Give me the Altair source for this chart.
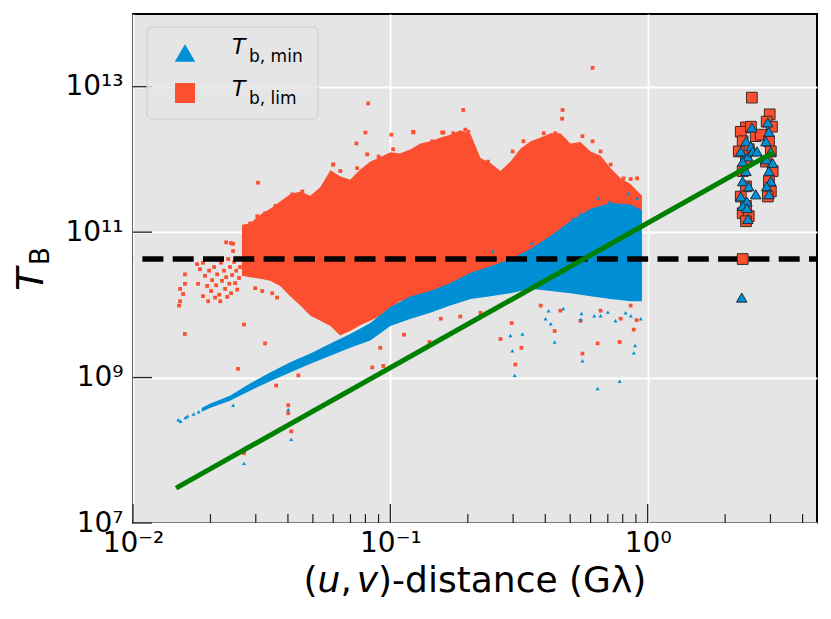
import altair as alt
import pandas as pd

W, H = 684, 509

# ---------------- axes ----------------
x_domain = [0.01, 4.55]
y_domain = [1e7, 1e14]
x_major = [0.01, 0.1, 1.0]
x_major_labels = ["10⁻²", "10⁻¹", "10⁰"]
x_minor = [0.02, 0.03, 0.04, 0.05, 0.06, 0.07, 0.08, 0.09,
           0.2, 0.3, 0.4, 0.5, 0.6, 0.7, 0.8, 0.9, 2, 3, 4]
y_major = [1e7, 1e9, 1e11, 1e13]
y_major_labels = ["10⁷", "10⁹", "10¹¹", "10¹³"]

# ---------------- data (log10 T_B) ----------------
# dense T_b,lim cloud: lower / upper envelope
lim_env_x = [0.0265, 0.0285, 0.0312, 0.0341, 0.0373, 0.0408, 0.0447, 0.0489, 0.0535, 0.0585,
             0.0638, 0.0698, 0.0764, 0.0836, 0.0914, 0.100, 0.109, 0.120, 0.131, 0.143,
             0.157, 0.171, 0.187, 0.205, 0.224, 0.245, 0.268, 0.293, 0.321, 0.351,
             0.384, 0.420, 0.458, 0.501, 0.548, 0.600, 0.656, 0.718, 0.785, 0.859, 0.950]
lim_env_lo = [10.40, 10.38, 10.36, 10.33, 10.26, 10.12, 9.99, 9.85, 9.78, 9.71,
              9.58, 9.64, 9.72, 9.78, 9.85, 9.95, 10.05, 10.08, 10.12, 10.16,
              10.19, 10.26, 10.30, 10.33, 10.40, 10.45, 10.49, 10.53, 10.58, 10.63,
              10.67, 10.74, 10.81, 10.88, 10.95, 11.01, 11.08, 11.12, 11.15, 11.18, 11.22]
lim_env_hi = [11.10, 11.12, 11.24, 11.32, 11.42, 11.52, 11.56, 11.50, 11.62, 11.85,
              11.77, 11.72, 11.86, 11.97, 12.03, 12.10, 12.08, 12.14, 12.22, 12.25,
              12.30, 12.34, 12.40, 12.35, 12.02, 11.95, 11.84, 11.97, 12.15, 12.25,
              12.30, 12.36, 12.36, 12.22, 12.24, 12.11, 12.05, 11.88, 11.74, 11.66, 11.50]

# dense T_b,min band
min_env_x = [0.0185, 0.0199, 0.0238, 0.0285, 0.0341, 0.0408, 0.0489, 0.0585, 0.0698, 0.0836,
             0.100, 0.120, 0.143, 0.171, 0.205, 0.245, 0.293, 0.351, 0.420, 0.501,
             0.600, 0.718, 0.859, 0.950]
min_env_lo = [8.53, 8.58, 8.68, 8.82, 8.95, 9.07, 9.19, 9.30, 9.41, 9.51,
              9.71, 9.81, 9.89, 9.99, 10.08, 10.12, 10.16, 10.22, 10.19, 10.16,
              10.12, 10.08, 10.05, 10.05]
min_env_hi = [8.58, 8.64, 8.75, 8.92, 9.07, 9.21, 9.33, 9.47, 9.60, 9.75,
              9.97, 10.12, 10.19, 10.30, 10.44, 10.53, 10.63, 10.77, 10.95, 11.15,
              11.32, 11.40, 11.38, 11.30]

# individual T_b,lim points (sparse part, ragged edges and outliers)
lim_pts_x = [0.01510, 0.01524, 0.01566, 0.01592, 0.01592, 0.01524,
             0.01774, 0.01822, 0.01871, 0.01790, 0.01871, 0.01905, 0.01941, 0.01976, 0.02012,
             0.02030, 0.02067, 0.02104, 0.02123, 0.02163, 0.02183, 0.02198, 0.02218, 0.02259,
             0.02280, 0.02301, 0.02344, 0.02366, 0.02382, 0.02404, 0.02427, 0.02449, 0.02472,
             0.02495, 0.02518, 0.02541, 0.02564, 0.02582, 0.02606, 0.02301, 0.02404, 0.02449,
             0.02084, 0.01959, 0.02323, 0.03475, 0.03631, 0.03177, 0.02985,
             0.0273, 0.0285, 0.0304, 0.0326, 0.0358, 0.0416, 0.0455, 0.0520, 0.0569, 0.0600,
             0.0639, 0.0680, 0.0743, 0.0813, 0.0912, 0.1025, 0.1227, 0.1455, 0.1610, 0.1756,
             0.1955, 0.2010, 0.2178, 0.2395, 0.2665, 0.2988, 0.3291, 0.3945, 0.4375, 0.5136,
             0.5579, 0.6110, 0.6560, 0.7180, 0.8050, 0.8590, 0.9100,
             0.0159, 0.0306, 0.0820, 0.0800, 0.0738, 0.1009, 0.611, 0.192, 0.467, 0.123,
             0.159, 0.465, 0.0270, 0.0256, 0.0326, 0.0360, 0.0401, 0.0401, 0.0412, 0.0270,
             0.0439, 0.0851, 0.0939, 0.0914, 0.113, 0.142, 0.268, 0.296, 0.306, 0.323,
             0.435, 0.558, 0.639, 0.778, 0.883, 0.906, 0.157, 0.187, 0.224, 0.384,
             0.458, 0.548, 0.656, 0.785, 0.859, 0.060, 0.090]
lim_pts_e = [9.99, 10.05, 10.15, 10.42, 10.29, 10.22,
             10.56, 10.49, 10.58, 10.29, 10.12, 10.40, 10.26, 10.47, 10.19,
             10.34, 10.52, 10.27, 10.42, 10.14, 10.05, 10.58, 10.33, 10.47,
             10.22, 10.38, 10.63, 10.29, 10.52, 10.16, 10.41, 10.74, 10.59,
             10.30, 10.47, 10.21, 10.63, 10.37, 10.52, 10.86, 10.85, 10.84,
             10.10, 10.05, 10.11, 10.16, 10.10, 10.19, 10.23,
             11.05, 11.12, 11.22, 11.26, 11.36, 11.52, 11.56, 11.45, 11.60, 11.93,
             11.84, 11.70, 11.88, 12.07, 12.01, 12.14, 12.38, 12.25, 12.37, 12.36,
             12.41, 12.38, 12.01, 11.97, 11.79, 12.11, 12.25, 12.36, 12.36, 12.14,
             12.32, 12.25, 12.11, 11.93, 11.74, 11.73, 11.74,
             9.60, 11.68, 12.77, 12.37, 12.22, 12.34, 13.26, 12.68, 12.68, 12.37,
             12.37, 12.56, 9.73, 9.12, 9.47, 8.89, 8.62, 8.51, 8.26, 7.96,
             9.03, 9.14, 9.16, 9.41, 9.59, 9.49, 9.53, 9.75, 9.18, 9.41,
             9.64, 9.33, 9.47, 9.49, 9.66, 9.79, 9.81, 9.84, 9.89, 9.99,
             9.92, 9.78, 9.92, 9.81, 9.99, 11.93, 12.04]

# individual T_b,min points
min_pts_x = [0.0150, 0.0153, 0.0160, 0.0163, 0.0172, 0.0180,
             0.0270, 0.0412, 0.0401, 0.0245, 0.304, 0.639, 0.778, 0.883, 0.893, 0.558,
             0.435, 0.298, 0.326, 0.420, 0.293, 0.401, 0.412, 0.656, 0.750, 0.940,
             0.821, 0.642, 0.710, 0.840, 0.910, 0.514, 0.548, 0.445, 0.426, 0.354, 0.250,
             0.550, 0.553, 0.620, 0.700, 0.860, 0.470]
min_pts_e = [8.42, 8.40, 8.45, 8.47, 8.50, 8.53,
             7.82, 8.15, 8.56, 8.62, 9.03, 8.85, 8.95, 9.34, 9.44, 9.23,
             9.49, 9.37, 9.60, 9.74, 9.58, 9.81, 9.92, 9.85, 9.78, 9.81,
             9.89, 11.47, 11.42, 11.53, 11.47, 11.19, 11.25, 10.90, 10.90, 10.85, 10.74,
             9.80, 9.88, 9.85, 9.90, 9.85, 9.95]

# long-baseline cluster
clu_lim_x = [2.41, 2.30, 2.52, 2.63, 2.34, 2.47, 2.26, 2.41, 2.34, 2.41, 2.30, 2.41, 2.34, 2.47,
             2.41, 2.75, 2.98, 2.90, 3.04, 2.96, 3.01, 2.88, 3.06, 2.96, 3.01, 2.93, 2.54, 2.34]
clu_lim_e = [12.44, 12.38, 12.45, 12.32, 12.25, 12.14, 12.11, 11.97, 11.84, 11.63, 11.49, 11.36,
             11.26, 11.22, 11.15, 12.34, 12.62, 12.52, 12.45, 12.25, 12.11, 11.97, 11.84, 11.70,
             11.56, 11.49, 12.85, 10.63]
clu_min_x = [2.54, 2.41, 2.52, 2.30, 2.45, 2.56, 2.66, 2.34, 2.41, 2.34, 2.47, 2.30, 2.43, 2.63,
             2.34, 2.43, 2.45, 2.93, 2.96, 2.88, 3.01, 2.90, 3.06, 2.96, 3.01, 2.90, 2.96, 2.32]
clu_min_e = [12.44, 12.25, 12.18, 12.11, 12.04, 12.11, 12.11, 11.97, 11.84, 11.70, 11.63, 11.49,
             11.42, 11.52, 11.36, 11.33, 11.18, 12.51, 12.38, 12.25, 12.11, 12.00, 11.95, 11.84,
             11.70, 11.63, 11.52, 10.10]

# green x^2 line and threshold
fit_x = [0.0147, 3.09]
fit_e = [7.48, 12.10]
thresh_e = [10.63]

legend_T = ["T", "T"]
legend_sub = ["b, min", "b, lim"]

# ---------------- styles ----------------
BLUE = "#008FD5"
RED = "#FC4F30"
FONT = "DejaVu Sans"


def lab_expr(vals, labels):
    expr = f"'{labels[-1]}'"
    for v, lab in reversed(list(zip(vals[:-1], labels[:-1]))):
        expr = f"datum.value < {v * 3.0} ? '{lab}' : " + expr
    return expr


xs = alt.Scale(type="log", domain=x_domain, nice=False, zero=False)
ys = alt.Scale(type="log", domain=y_domain, nice=False, zero=False)
x_axis = alt.Axis(values=x_major, labelExpr=lab_expr(x_major, x_major_labels), ticks=False,
                  domain=False, grid=True, gridColor="white", gridWidth=1.8, labelFont=FONT,
                  labelFontSize=28, labelColor="black", labelPadding=6, title=None,
                  labelFlush=False, labelOverlap=False, labelBound=False)
y_axis = alt.Axis(values=y_major, labelExpr=lab_expr(y_major, y_major_labels), ticks=False,
                  domain=False, grid=True, gridColor="white", gridWidth=1.8, labelFont=FONT,
                  labelFontSize=28, labelColor="black", labelPadding=10, title=None,
                  labelFlush=False, labelOverlap=False, labelBound=False)


def X(f):
    return alt.X(f, type="quantitative", scale=xs, axis=x_axis)


def Y(f):
    return alt.Y(f, type="quantitative", scale=ys, axis=y_axis)


def pow10(lst):
    return [10 ** v for v in lst]


lim_env = pd.DataFrame({"x": lim_env_x, "lo": pow10(lim_env_lo), "hi": pow10(lim_env_hi)})
min_env = pd.DataFrame({"x": min_env_x, "lo": pow10(min_env_lo), "hi": pow10(min_env_hi)})
lim_pts = pd.DataFrame({"x": lim_pts_x, "y": pow10(lim_pts_e)})
min_pts = pd.DataFrame({"x": min_pts_x, "y": pow10(min_pts_e)})
clu_lim = pd.DataFrame({"x": clu_lim_x, "y": pow10(clu_lim_e)})
clu_min = pd.DataFrame({"x": clu_min_x, "y": pow10(clu_min_e)})
fit = pd.DataFrame({"x": fit_x, "y": pow10(fit_e)})
thresh = pd.DataFrame({"y": pow10(thresh_e)})

layers = []
layers.append(alt.Chart(lim_env).mark_area(color=RED, opacity=1).encode(x=X("x"), y=Y("lo"), y2="hi"))
layers.append(alt.Chart(lim_pts).mark_point(shape="square", filled=True, size=14, color=RED, opacity=1)
              .encode(x=X("x"), y=Y("y")))
layers.append(alt.Chart(min_env).mark_area(color=BLUE, opacity=1).encode(x=X("x"), y=Y("lo"), y2="hi"))
layers.append(alt.Chart(min_pts).mark_point(shape="triangle-up", filled=True, size=16, color=BLUE, opacity=1)
              .encode(x=X("x"), y=Y("y")))
layers.append(alt.Chart(thresh).mark_rule(color="black", strokeWidth=5.5, strokeDash=[21, 9.3],
                                          strokeDashOffset=13).encode(y=Y("y")))
layers.append(alt.Chart(clu_lim).mark_point(shape="square", filled=True, size=115, fill=RED,
                                            stroke="#3a2a26", strokeWidth=1, opacity=1)
              .encode(x=X("x"), y=Y("y")))
layers.append(alt.Chart(clu_min).mark_point(shape="triangle-up", filled=True, size=110, fill=BLUE,
                                            stroke="#1f2d38", strokeWidth=1, opacity=1)
              .encode(x=X("x"), y=Y("y")))
layers.append(alt.Chart(fit).mark_line(color="#008000", strokeWidth=5).encode(x=X("x"), y=Y("y")))

# inward ticks
layers.append(alt.Chart(pd.DataFrame({"x": x_major})).mark_rule(color="#222", strokeWidth=1.3)
              .encode(x=X("x"), y=alt.value(H), y2=alt.value(H - 19)))
layers.append(alt.Chart(pd.DataFrame({"x": x_minor})).mark_rule(color="#222", strokeWidth=1.2)
              .encode(x=X("x"), y=alt.value(H), y2=alt.value(H - 9)))
layers.append(alt.Chart(pd.DataFrame({"y": y_major})).mark_rule(color="#222", strokeWidth=1.3)
              .encode(y=Y("y"), x=alt.value(0), x2=alt.value(19)))

# legend
one = pd.DataFrame({"a": [0]})
layers.append(alt.Chart(one).mark_rect(fill="#E5E5E5", fillOpacity=0.85, stroke="#CCCCCC",
                                       strokeWidth=1, cornerRadius=5)
              .encode(x=alt.value(14), x2=alt.value(185), y=alt.value(13), y2=alt.value(105)))
layers.append(alt.Chart(one).mark_point(shape="triangle-up", filled=True, size=420, color=BLUE, opacity=1)
              .encode(x=alt.value(52), y=alt.value(39)))
layers.append(alt.Chart(one).mark_point(shape="square", filled=True, size=400, color=RED, opacity=1)
              .encode(x=alt.value(52), y=alt.value(79)))
for i, yb in enumerate([40, 82]):
    layers.append(alt.Chart(pd.DataFrame({"t": [legend_T[i]]}))
                  .mark_text(font=FONT, fontSize=22, fontStyle="italic", align="left",
                             baseline="alphabetic", color="black")
                  .encode(text="t:N", x=alt.value(99), y=alt.value(yb)))
    layers.append(alt.Chart(pd.DataFrame({"t": [legend_sub[i]]}))
                  .mark_text(font=FONT, fontSize=17, align="left", baseline="alphabetic", color="black")
                  .encode(text="t:N", x=alt.value(116), y=alt.value(yb + 8)))

# x title: (u, v)-distance (Gλ)
xt_parts = ["(", "u", ",", "v", ")-distance (Gλ)"]
xt_pos = [170.6, 184.6, 207.4, 223.7, 245.0]
xt_ital = [False, True, False, True, False]
for p, px, it in zip(xt_parts, xt_pos, xt_ital):
    kw = dict(font=FONT, fontSize=36, align="left", baseline="alphabetic", color="black")
    if it:
        kw["fontStyle"] = "italic"
    layers.append(alt.Chart(pd.DataFrame({"t": [p]})).mark_text(**kw)
                  .encode(text="t:N", x=alt.value(px), y=alt.value(578)))

# y title: T_B
layers.append(alt.Chart(pd.DataFrame({"t": ["T"]}))
              .mark_text(font=FONT, fontSize=38, fontStyle="italic", align="left",
                         baseline="alphabetic", angle=270, color="black")
              .encode(text="t:N", x=alt.value(-90), y=alt.value(277)))
layers.append(alt.Chart(pd.DataFrame({"t": ["B"]}))
              .mark_text(font=FONT, fontSize=26, align="left", baseline="alphabetic", angle=270,
                         color="black")
              .encode(text="t:N", x=alt.value(-84), y=alt.value(251)))

chart = alt.layer(*layers).properties(
    width=W, height=H,
    padding={"left": 125, "top": 6, "right": 5, "bottom": 85},
    autosize=alt.AutoSizeParams(type="none"),
).configure_view(fill="#E5E5E5", stroke="black", strokeWidth=2)

chart.save("out.html", embed_options={"renderer": "svg", "actions": False})
